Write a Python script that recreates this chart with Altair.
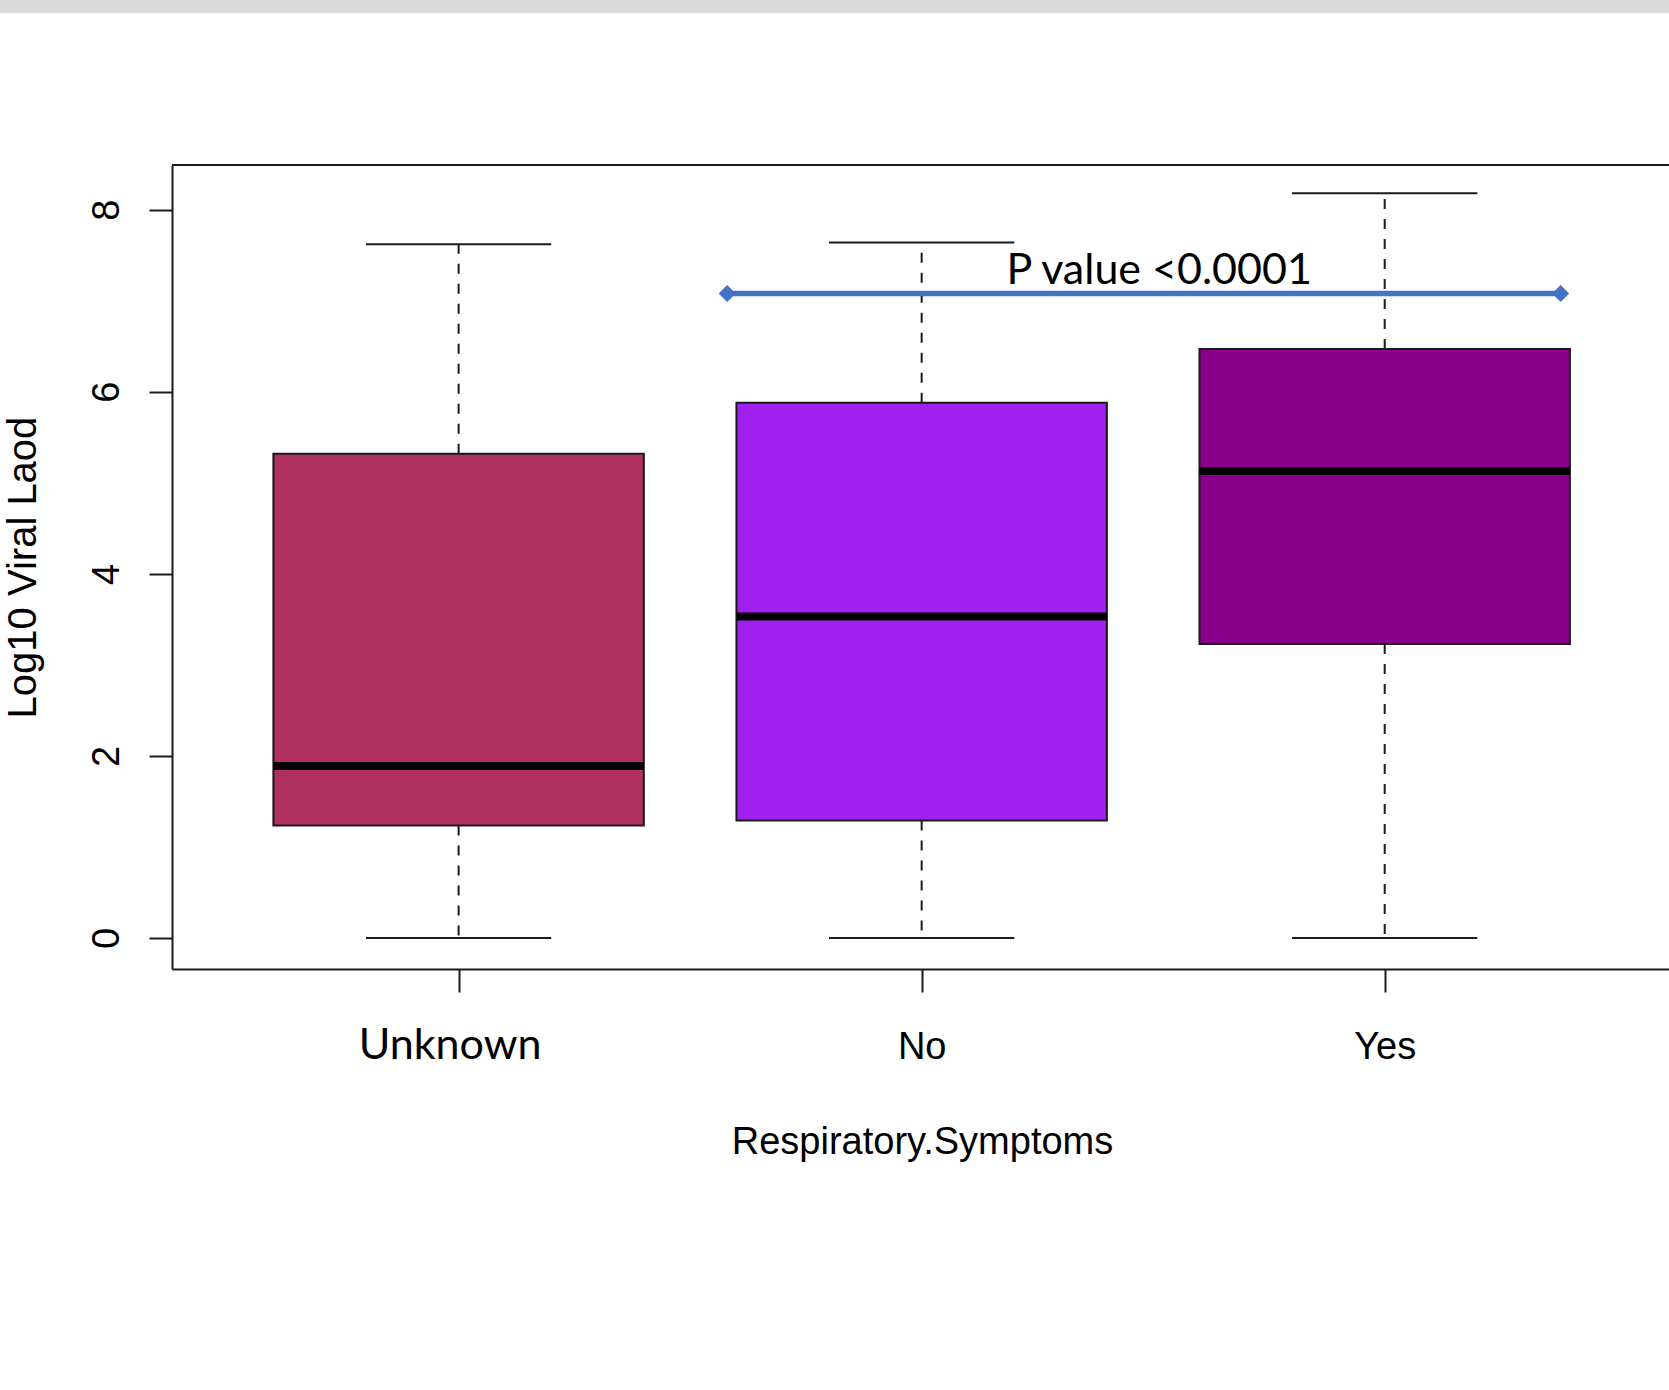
import json

import altair as alt
import pandas as pd

# Five-number summaries of log10 viral load by respiratory-symptom group
categories = ["Unknown", "No", "Yes"]
lower_whisker = [0.0, 0.0, 0.0]
q1 = [1.235, 1.29, 3.23]
median = [1.89, 3.53, 5.13]
q3 = [5.32, 5.88, 6.47]
upper_whisker = [7.62, 7.64, 8.18]
fill_colors = ["#B03060", "#A020F0", "#8B008B"]

y_ticks = [0, 2, 4, 6, 8]

# Significance bracket between "No" and "Yes"
p_label = "P value <0.0001"
p_span = [1.58, 3.38]
p_level = 7.08
p_text_at = [2.513, 7.18]

# Layout / style constants
PLOT_W, PLOT_H = 1497, 804
BOX_HALF = 0.4      # boxwex 0.8
CAP_HALF = 0.2      # staplewex 0.5
INK = "#1a1a1a"
R_FONT = "Liberation Sans"
SLIDE_FONT = "Lato"

pos = list(range(1, len(categories) + 1))
boxes = pd.DataFrame({
    "group": categories,
    "pos": pos,
    "left": [p - BOX_HALF for p in pos],
    "right": [p + BOX_HALF for p in pos],
    "lo": lower_whisker,
    "q1": q1,
    "median": median,
    "q3": q3,
    "hi": upper_whisker,
})

whiskers = pd.DataFrame({
    "pos": pos + pos,
    "start": q3 + q1,
    "end": upper_whisker + lower_whisker,
})
caps = pd.DataFrame({
    "cap_left": [p - CAP_HALF for p in pos] * 2,
    "cap_right": [p + CAP_HALF for p in pos] * 2,
    "level": upper_whisker + lower_whisker,
})

x_scale = alt.Scale(domain=[0.381, 3.614], nice=False, zero=False)
y_scale = alt.Scale(domain=[-0.34, 8.49], nice=False, zero=False)

first_is_unknown = "datum.value === 1"
x_axis = alt.Axis(
    values=pos,
    labelExpr=f"{json.dumps(categories)}[datum.value - 1]",
    labelFont={"condition": {"test": first_is_unknown, "value": SLIDE_FONT}, "value": R_FONT},
    labelFontSize={"condition": {"test": first_is_unknown, "value": 43}, "value": 38},
    labelOffset={"condition": {"test": first_is_unknown, "value": -9}, "value": 0},
    labelColor="black",
    labelBaseline="alphabetic",
    labelPadding=66,
    labelLimit=0,
    labelFlush=False,
    labelOverlap=False,
    tickSize=23,
    tickWidth=2,
    tickColor=INK,
    domainColor=INK,
    domainWidth=2,
    grid=False,
    title="Respiratory.Symptoms",
    titleFont=R_FONT,
    titleFontSize=38,
    titleFontWeight="normal",
    titleColor="black",
    titleX=750,
    titleY=184,
    titleAlign="center",
    titleBaseline="alphabetic",
)

y_axis = alt.Axis(
    values=y_ticks,
    labelAngle=270,
    labelAlign="center",
    labelBaseline="alphabetic",
    labelPadding=31,
    labelFont=R_FONT,
    labelFontSize=38,
    labelColor="black",
    tickSize=23,
    tickWidth=2,
    tickColor=INK,
    domainColor=INK,
    domainWidth=2,
    grid=False,
    title="Log10 Viral Laod",
    titleFont=R_FONT,
    titleFontSize=40,
    titleFontWeight="normal",
    titleColor="black",
    titleAngle=270,
    titleX=-137,
    titleY=402,
    titleAlign="center",
    titleBaseline="alphabetic",
)


def xq(field):
    return alt.X(field, type="quantitative", scale=x_scale, axis=x_axis)


def yq(field):
    return alt.Y(field, type="quantitative", scale=y_scale, axis=y_axis)


# dashed whiskers from the box edges out to the extremes
whisker_layer = alt.Chart(whiskers).mark_rule(
    color=INK, strokeWidth=2, strokeDash=[10, 10]
).encode(x=xq("pos"), y=yq("start"), y2="end:Q")

box_layer = alt.Chart(boxes).mark_rect(stroke=INK, strokeWidth=2).encode(
    x=xq("left"),
    x2="right:Q",
    y=yq("q1"),
    y2="q3:Q",
    color=alt.Color("group:N", scale=alt.Scale(domain=categories, range=fill_colors), legend=None),
)

median_layer = alt.Chart(boxes).mark_rule(color="black", strokeWidth=8).encode(
    x=xq("left"), x2="right:Q", y=yq("median")
)

cap_layer = alt.Chart(caps).mark_rule(color=INK, strokeWidth=2).encode(
    x=xq("cap_left"), x2="cap_right:Q", y=yq("level")
)

# top edge of the plot frame
frame_top = alt.Chart(boxes).mark_rule(color=INK, strokeWidth=2).encode(
    x=alt.value(0), x2=alt.value(PLOT_W), y=alt.value(0)
)

# grey strip along the top of the page
top_strip = alt.Chart(boxes).mark_rect(color="#d9d9d9").encode(
    x=alt.value(-172), x2=alt.value(PLOT_W), y=alt.value(-165), y2=alt.value(-152)
)

bracket = pd.DataFrame({"x": [p_span[0]], "x2": [p_span[1]], "y": [p_level]})
bracket_ends = pd.DataFrame({"x": p_span, "y": [p_level, p_level]})
bracket_text = pd.DataFrame({"x": [p_text_at[0]], "y": [p_text_at[1]], "label": [p_label]})

bracket_line = alt.Chart(bracket).mark_rule(color="#4472C4", strokeWidth=5.5).encode(
    x=xq("x"), x2="x2:Q", y=yq("y")
)
bracket_tips = alt.Chart(bracket_ends).mark_point(
    shape="diamond", filled=True, size=289, color="#4472C4", opacity=1
).encode(x=xq("x"), y=yq("y"))
bracket_label = alt.Chart(bracket_text).mark_text(
    font=SLIDE_FONT, fontSize=43, color="black", align="center", baseline="alphabetic"
).encode(x=xq("x"), y=yq("y"), text="label:N")

chart = alt.layer(
    top_strip,
    frame_top,
    whisker_layer,
    box_layer,
    median_layer,
    cap_layer,
    bracket_line,
    bracket_tips,
    bracket_label,
).properties(
    width=PLOT_W,
    height=PLOT_H,
    autosize=alt.AutoSizeParams(type="none"),
    padding={"left": 172, "top": 165, "right": 0, "bottom": 400},
    background="white",
).configure_view(stroke=None)

chart.save("out.html", embed_options={"renderer": "svg", "actions": False})
